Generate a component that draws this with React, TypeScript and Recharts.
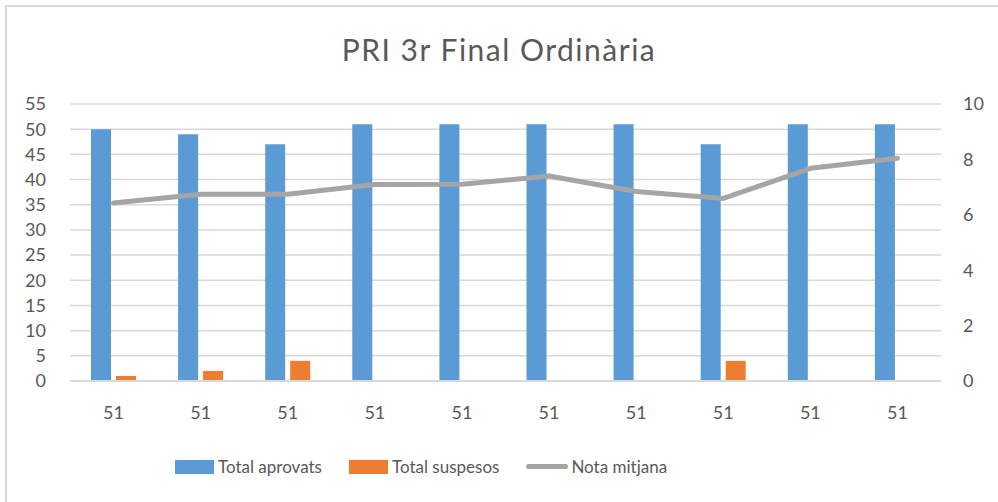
import React from 'react';
import { ComposedChart, Bar, Line, XAxis, YAxis, CartesianGrid, Legend } from 'recharts';

const categories = ['51', '51', '51', '51', '51', '51', '51', '51', '51', '51'];
const aprovats = [50, 49, 47, 51, 51, 51, 51, 47, 51, 51];
const suspesos = [1, 2, 4, 0, 0, 0, 0, 4, 0, 0];
const notaMitjana = [6.43, 6.74, 6.74, 7.09, 7.1, 7.4, 6.84, 6.59, 7.68, 8.04];
const leftTicks = [0, 5, 10, 15, 20, 25, 30, 35, 40, 45, 50, 55];
const rightTicks = [0, 2, 4, 6, 8, 10];

const data = categories.map((c, i) => ({
  name: c,
  aprovats: aprovats[i],
  suspesos: suspesos[i],
  nota: notaMitjana[i],
}));

const FONT = 'Lato, "Open Sans", sans-serif';
const TEXT = '#595959';

const legendItems = [
  { label: 'Total aprovats', color: '#5b9bd5', kind: 'bar' },
  { label: 'Total suspesos', color: '#ed7d31', kind: 'bar' },
  { label: 'Nota mitjana', color: '#a5a5a5', kind: 'line' },
];

function LegendContent() {
  return (
    <div style={{ display: 'flex', alignItems: 'center', fontFamily: FONT, fontSize: 17, color: TEXT, paddingLeft: 165, paddingTop: 5 }}>
      {legendItems.map((it) => (
        <div key={it.label} style={{ display: 'flex', alignItems: 'center', marginRight: 27 }}>
          {it.kind === 'bar' ? (
            <span style={{ display: 'inline-block', width: 39, height: 14, background: it.color, marginRight: 4 }} />
          ) : (
            <span style={{ display: 'inline-block', width: 42, height: 5, borderRadius: 3, background: it.color, marginRight: 3 }} />
          )}
          <span>{it.label}</span>
        </div>
      ))}
    </div>
  );
}

export default function App() {
  return (
    <div style={{ position: 'absolute', left: 0, top: 0, width: 998, height: 502, overflow: 'hidden', background: '#fff' }}>
      <div style={{ position: 'absolute', left: 5, top: 5, width: 1010, height: 520, border: '2px solid #d9d9d9', boxSizing: 'border-box' }} />
      <div style={{ position: 'absolute', left: 0, top: 34, width: 998, textAlign: 'center', fontFamily: FONT, fontSize: 30, lineHeight: '30px', letterSpacing: 1.5, color: TEXT }}>
        PRI 3r Final Ordinària
      </div>
      <div style={{ position: 'absolute', left: 0, top: 0 }}>
        <ComposedChart
          width={998}
          height={502}
          data={data}
          margin={{ top: 104, right: 7, left: 10, bottom: 21 }}
          barGap={5}
          barSize={20}
        >
          <CartesianGrid yAxisId="left" vertical={false} stroke="#d9d9d9" strokeWidth={1.5} />
          <XAxis
            dataKey="name"
            height={70}
            axisLine={{ stroke: '#d9d9d9', strokeWidth: 2 }}
            tickLine={false}
            tickMargin={19}
            tick={{ fill: TEXT, fontSize: 18, fontFamily: FONT }}
            interval={0}
          />
          <YAxis
            yAxisId="left"
            width={60}
            domain={[0, 55]}
            ticks={leftTicks}
            interval={0}
            axisLine={false}
            tickLine={false}
            tickMargin={18}
            tick={{ fill: TEXT, fontSize: 18, fontFamily: FONT }}
          />
          <YAxis
            yAxisId="right"
            orientation="right"
            width={50}
            domain={[0, 10]}
            ticks={rightTicks}
            interval={0}
            axisLine={false}
            tickLine={false}
            tickMargin={16}
            tick={{ fill: TEXT, fontSize: 18, fontFamily: FONT, textAnchor: 'start' }}
          />
          <Legend verticalAlign="bottom" height={30} content={<LegendContent />} />
          <Bar yAxisId="left" dataKey="aprovats" name="Total aprovats" fill="#5b9bd5" isAnimationActive={false} />
          <Bar yAxisId="left" dataKey="suspesos" name="Total suspesos" fill="#ed7d31" isAnimationActive={false} />
          <Line
            yAxisId="right"
            dataKey="nota"
            name="Nota mitjana"
            type="linear"
            stroke="#a5a5a5"
            strokeWidth={5}
            strokeLinecap="round"
            strokeLinejoin="round"
            dot={false}
            activeDot={false}
            isAnimationActive={false}
          />
        </ComposedChart>
      </div>
    </div>
  );
}
